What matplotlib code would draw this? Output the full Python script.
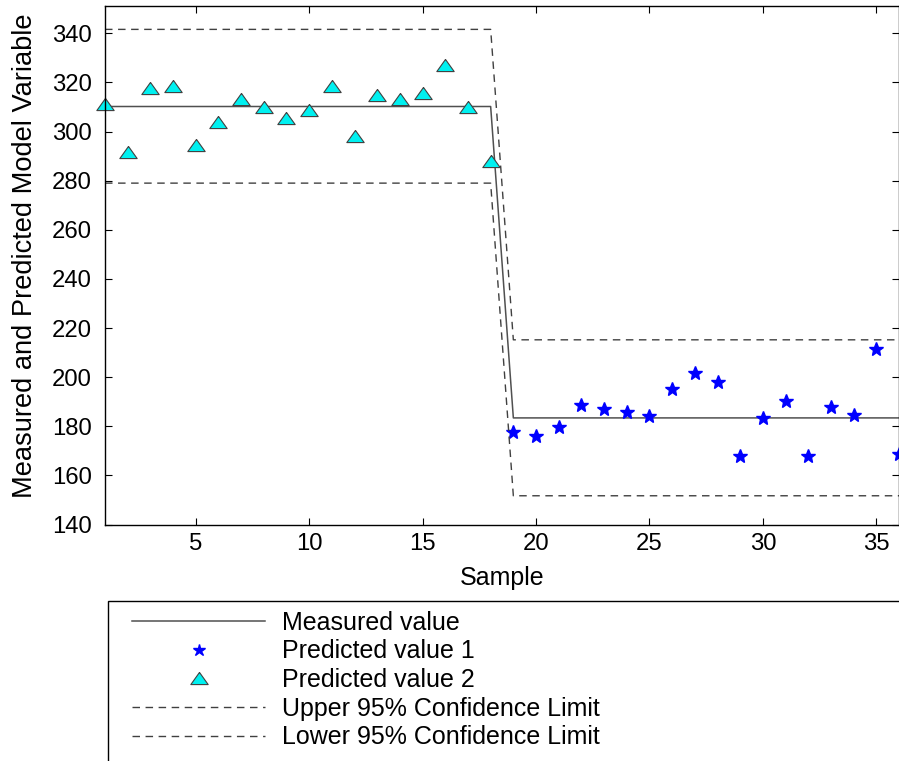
import numpy as np
import matplotlib
matplotlib.use("Agg")
import matplotlib.pyplot as plt
from matplotlib.patches import Rectangle

plt.rcParams['font.family'] = ['Liberation Sans', 'DejaVu Sans']

# samples and measured / predicted values
samples = np.arange(1, 37)
measured = [310.2] * 18 + [183.4] * 18
upper_cl = [341.6] * 18 + [215.2] * 18
lower_cl = [279.0] * 18 + [151.7] * 18

# predicted value 2 covers the first 18 samples, predicted value 1 the rest
x_pred2 = np.arange(1, 19)
pred2 = [311.3, 291.5, 317.8, 318.5, 294.7, 304.0, 313.4, 310.2, 305.4,
         308.6, 318.5, 298.0, 314.7, 313.4, 315.9, 327.2, 310.1, 288.0]
x_pred1 = np.arange(19, 37)
pred1 = [177.6, 176.1, 179.6, 188.6, 187.2, 185.9, 184.0, 195.1, 201.6,
         198.2, 168.0, 183.4, 190.2, 168.0, 187.9, 184.6, 211.3, 168.8]

fs_tick = 17.2
fs_lab = 18
fs_leg = 18
fig = plt.figure(figsize=(8.99, 7.61), dpi=100)
ax = fig.add_axes([105/899, 236.5/761, 794/899, 518.2/761])

ax.plot(samples, measured, color='#505050', lw=1.1, label='Measured value')
ax.plot(x_pred1, pred1, ls='none', marker='*', ms=10.5, color='#0000ff',
        mec='#0000ff', clip_on=False, label='Predicted value 1')
tri = [(0, 0.7), (-1, -0.7), (1, -0.7), (0, 0.7)]
ax.plot(x_pred2, pred2, ls='none', marker=tri, ms=12.5, mfc='#00f0f0',
        mec='#404040', mew=0.8, clip_on=False, label='Predicted value 2')
ax.plot(samples, upper_cl, color='#404040', lw=1, dashes=(5.4, 4),
        label='Upper 95% Confidence Limit')
ax.plot(samples, lower_cl, color='#404040', lw=1, dashes=(5.4, 4),
        label='Lower 95% Confidence Limit')

ax.set_xlim(1, 36)
ax.set_ylim(140, 351)
ax.set_xticks([5, 10, 15, 20, 25, 30, 35])
ax.set_yticks(np.arange(140, 341, 20))
ax.tick_params(direction='in', length=5, width=0.8, top=True, right=True,
               labelsize=fs_tick)
ax.tick_params(axis='x', pad=6)
ax.tick_params(axis='y', pad=9.5)
for s in ax.spines.values():
    s.set_linewidth(1.0)

ax.set_xlabel('Sample', fontsize=fs_lab)
ax.set_ylabel('Measured and Predicted Model Variable', fontsize=19.6)
ax.xaxis.set_label_coords(0.5, -0.080)
ax.yaxis.set_label_coords(-0.085, 0.518)

leg = fig.legend(loc='upper left', bbox_to_anchor=(132/899, 1 - 610.5/761),
                 frameon=False, fontsize=fs_leg, borderpad=0, borderaxespad=0,
                 handlelength=5.32, handletextpad=0.68, labelspacing=0.19)
leg.legend_handles[1].set_markersize(9)
leg.legend_handles[2].set_markersize(12.5)

# legend box runs off the right and bottom edge
fig.patches.append(Rectangle((108/899, -0.1), 1.0, (761 - 600.7)/761 + 0.1,
                             transform=fig.transFigure, fill=False,
                             ec='black', lw=1.0))

fig.savefig('out.png', dpi=100)
